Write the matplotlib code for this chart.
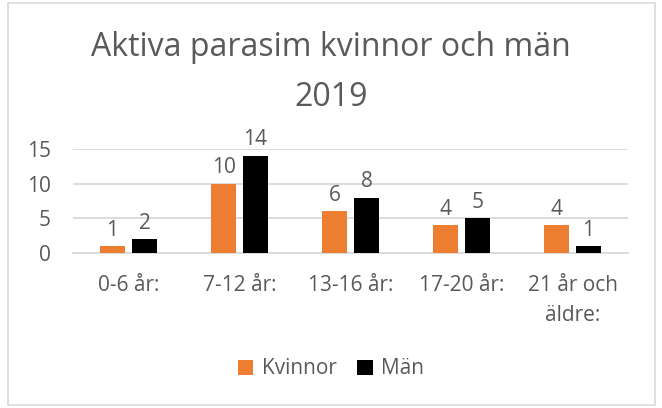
import matplotlib.pyplot as plt
import numpy as np
from matplotlib.patches import Rectangle

# ------------------------- Datos -------------------------
kategorier = ['0-6 år:', '7-12 år:', '13-16 år:', '17-20 år:', '21 år och\näldre:']
kvinnor = [1, 10, 6, 4, 4]
man = [2, 14, 8, 5, 1]
yticks = [0, 5, 10, 15]

ORANGE = '#ED7D31'
SVART = '#000000'
TEXT = '#595959'
GRID = '#D9D9D9'

plt.rcParams['font.family'] = ['Open Sans', 'DejaVu Sans']

fig = plt.figure(figsize=(6.62, 4.08), dpi=100)
W, H = 662, 408

# ram runt diagrammet
fig.patches.append(Rectangle((8 / W, 3 / H), 647 / W, 402 / H, transform=fig.transFigure,
                             fill=False, edgecolor=GRID, linewidth=1.2))

ax = fig.add_axes([73 / W, 1 - 253 / H, 555 / W, 104 / H])

x = np.arange(len(kategorier))
bredd = 0.225
off = 0.144
b1 = ax.bar(x - off, kvinnor, bredd, color=ORANGE, label='Kvinnor', zorder=3)
b2 = ax.bar(x + off, man, bredd, color=SVART, label='Män', zorder=3)

for bars in (b1, b2):
    for r in bars:
        ax.annotate(f'{int(r.get_height())}', (r.get_x() + r.get_width() / 2, r.get_height()),
                    xytext=(0, 4), textcoords='offset points', ha='center', va='bottom',
                    fontsize=15, color=TEXT, annotation_clip=False)

ax.set_xlim(-0.5, len(kategorier) - 0.5)
ax.set_ylim(0, 15)
ax.set_yticks(yticks)
ax.yaxis.grid(True, color=GRID, linewidth=1.3, zorder=0)
for s in ['top', 'right', 'left']:
    ax.spines[s].set_visible(False)
ax.spines['bottom'].set_color(GRID)
ax.spines['bottom'].set_linewidth(1.3)
ax.tick_params(axis='both', length=0, labelsize=15, colors=TEXT)
ax.tick_params(axis='y', pad=16)
ax.tick_params(axis='x', pad=16)
ax.set_xticks(x)
ax.set_xticklabels(kategorier, linespacing=1.55, va='top')

fig.text(0.5, 1 - 48 / H, 'Aktiva parasim kvinnor och män', ha='center', va='center',
         fontsize=23, color=TEXT)
fig.text(0.5, 1 - 97 / H, '2019', ha='center', va='center', fontsize=23, color=TEXT)

fig.legend(handles=[b1, b2], loc='center', bbox_to_anchor=(0.5, 1 - 369 / H), ncol=2,
           frameon=False, fontsize=15, labelcolor=TEXT, handlelength=0.75, handleheight=0.75,
           handletextpad=0.4, columnspacing=1.0)

plt.savefig('out.png', dpi=100)
